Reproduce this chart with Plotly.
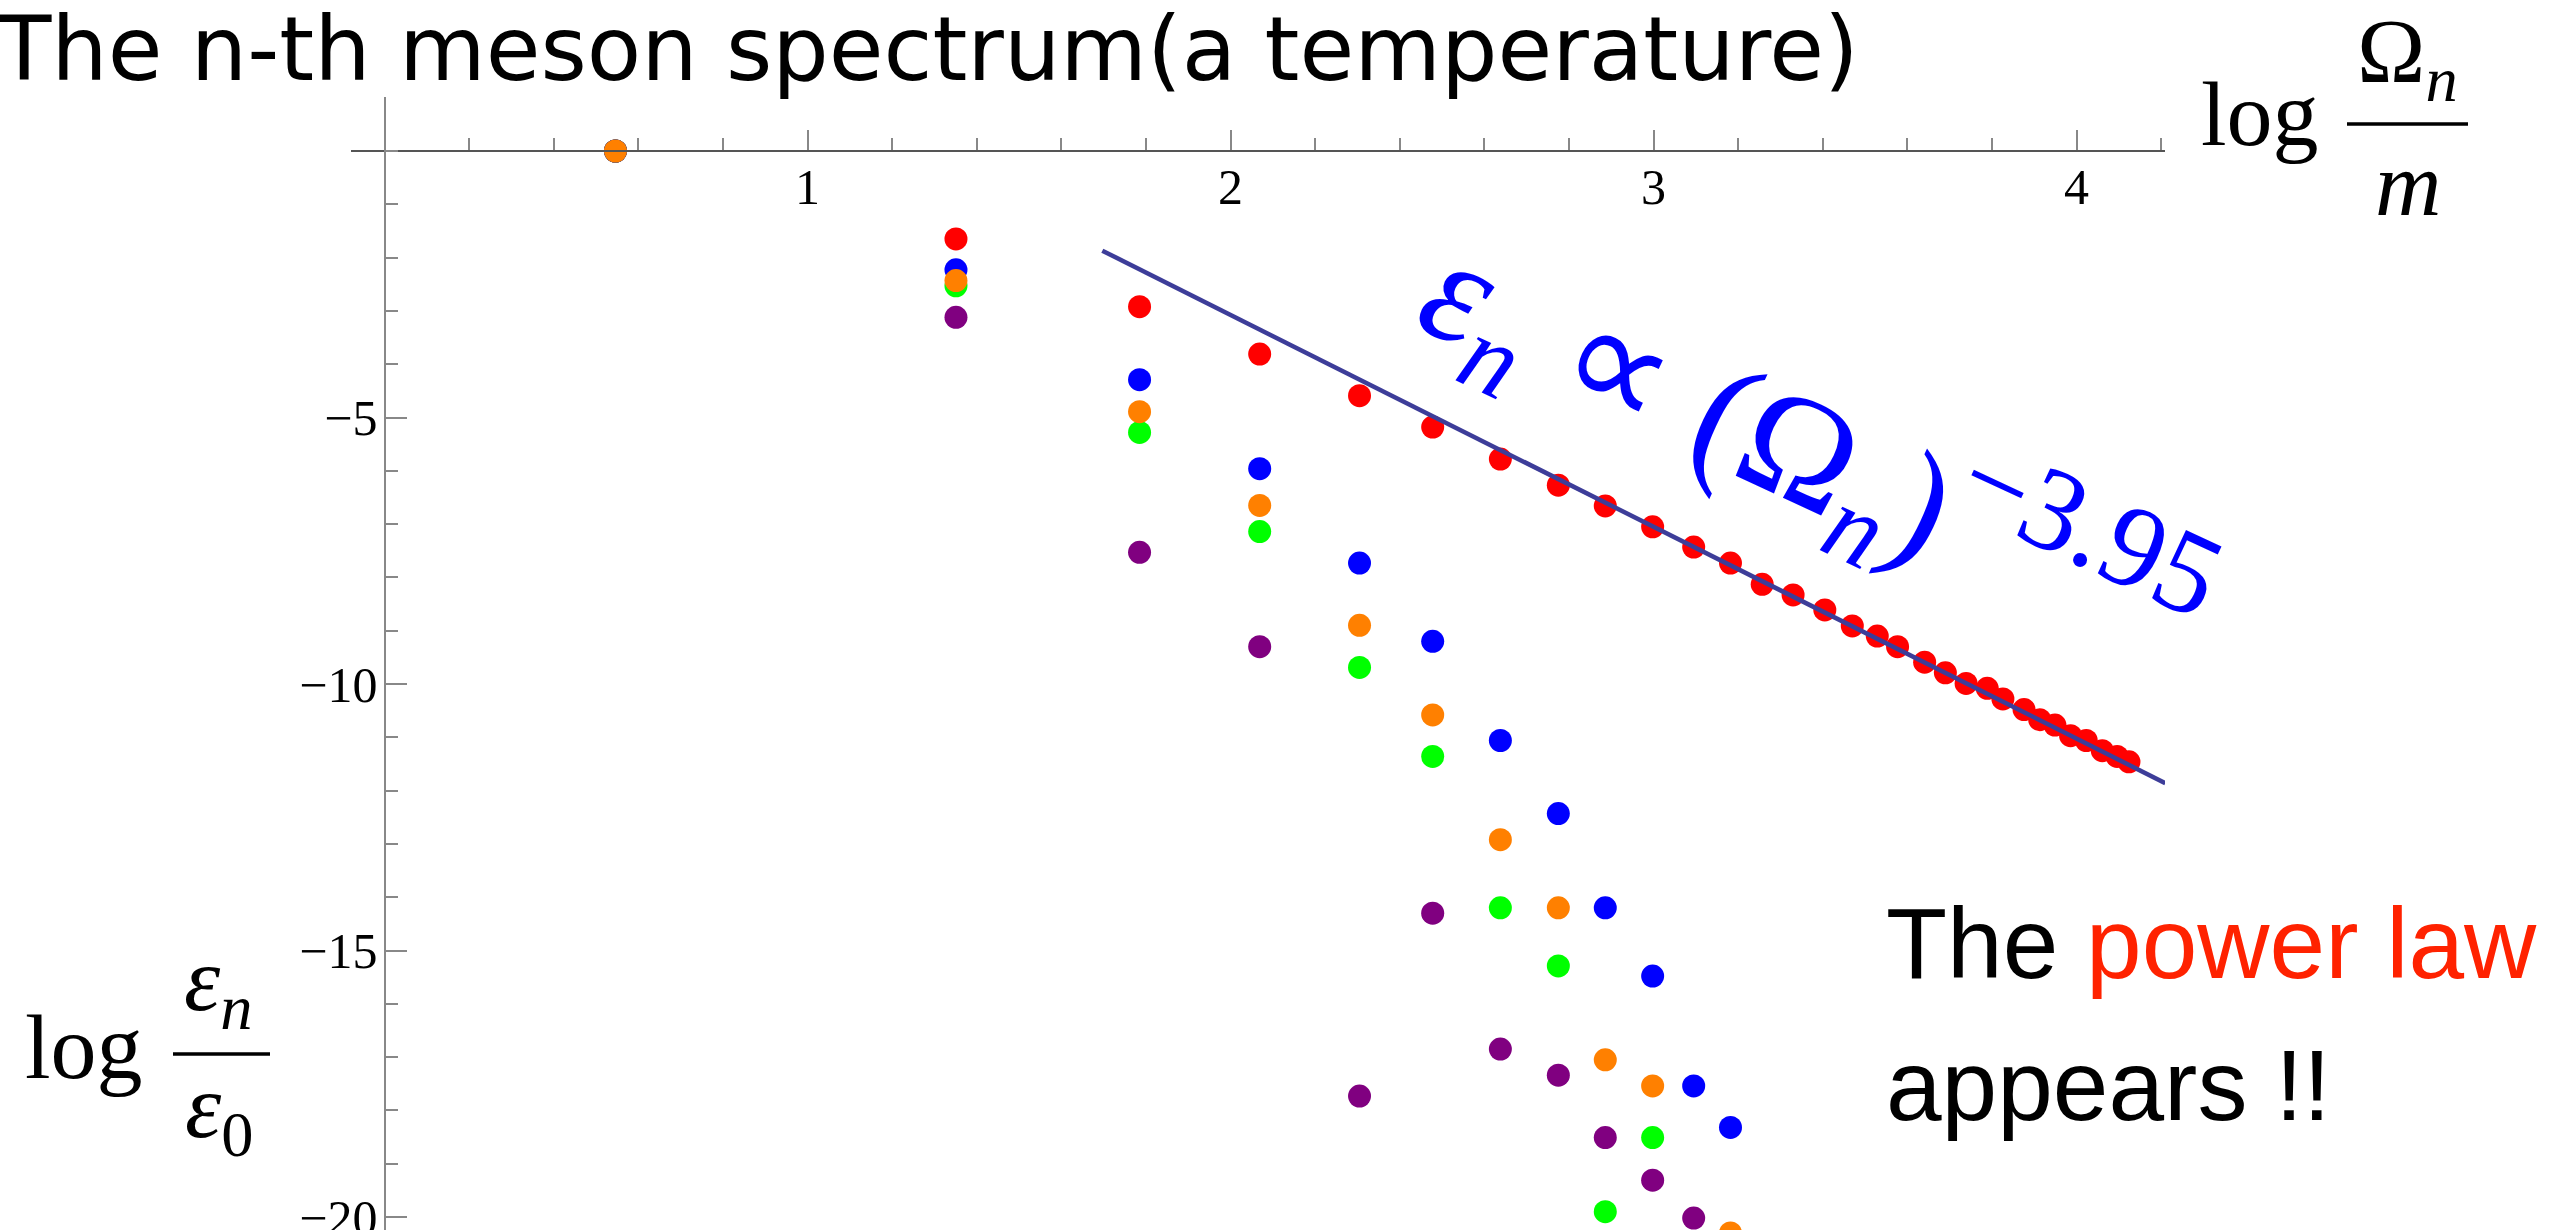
import plotly.graph_objects as go

# ---------------- data ----------------
log_omega = [0.546, 1.351, 1.785, 2.069, 2.305, 2.478, 2.638, 2.775, 2.886, 2.998,
             3.095, 3.182, 3.257, 3.330, 3.405, 3.470, 3.529, 3.577, 3.641, 3.690,
             3.739, 3.789, 3.826, 3.876, 3.913, 3.949, 3.986, 4.023, 4.061, 4.096, 4.124]

red_y = [0, -1.65, -2.92, -3.81, -4.59, -5.18, -5.78, -6.27, -6.66, -7.05,
         -7.43, -7.73, -8.13, -8.33, -8.61, -8.91, -9.10, -9.30, -9.59, -9.79,
         -9.99, -10.08, -10.28, -10.48, -10.67, -10.77, -10.97, -11.06, -11.25, -11.36, -11.46]
blue_y = [0, -2.23, -4.29, -5.96, -7.73, -9.20, -11.06, -12.43, -14.20, -15.48, -17.54, -18.32]
orange_y = [0, -2.43, -4.89, -6.65, -8.90, -10.58, -12.92, -14.20, -17.05, -17.54, None, -20.30]
green_y = [0, -2.53, -5.28, -7.14, -9.69, -11.36, -14.20, -15.29, -19.90, -18.51]
purple_y = [0, -3.12, -7.53, -9.30, -17.73, -14.30, -16.85, -17.34, -18.51, -19.31, -20.02]

fit_x = [1.697, 4.210]
fit_y = [-1.87, -11.86]

x_tickvals = [1, 2, 3, 4]
x_ticktext = ["1", "2", "3", "4"]
y_tickvals = [-20, -15, -10, -5]
y_ticktext = ["\u221220", "\u221215", "\u221210", "\u22125"]

# ---------------- geometry ----------------
W, H = 2564, 1230
L, R, T, B = 351, 399, 97, 0
PW, PH = W - L - R, H - T - B
X0PX, XSCALE = 384.5, 423.0     # pixel of x=0, pixels per unit
Y0PX, YSCALE = 151.0, 53.3      # pixel of y=0, pixels per unit
xmin = -(X0PX - L) / XSCALE
xmax = xmin + PW / XSCALE
ymax = (Y0PX - T) / YSCALE
ymin = ymax - PH / YSCALE


def pxx(px):
    return (px - L) / PW


def pxy(py):
    return (H - B - py) / PH


serif = "Liberation Serif"
colors = {"red": "#FF0000", "blue": "#0000FF", "green": "#00FF00",
          "purple": "#800080", "orange": "#FF8000"}
MS = 23

fig = go.Figure()
for name, ys in [("red", red_y), ("purple", purple_y), ("green", green_y),
                 ("blue", blue_y), ("orange", orange_y)]:
    fig.add_trace(go.Scatter(x=log_omega[:len(ys)], y=ys, mode="markers",
                             marker=dict(size=MS, color=colors[name], line=dict(width=0)),
                             showlegend=False, hoverinfo="skip"))

fig.add_trace(go.Scatter(x=fit_x, y=fit_y, mode="lines",
                         line=dict(color="#3D3D99", width=4.5),
                         showlegend=False, hoverinfo="skip"))

tickfont = dict(family=serif, size=50, color="black")
fig.update_xaxes(range=[xmin, xmax], anchor="free", automargin=False,
                 position=(0 - ymin) / (ymax - ymin), side="bottom",
                 showline=True, linecolor="#555555", linewidth=2,
                 showgrid=False, zeroline=False,
                 tickmode="array", tickvals=x_tickvals, ticktext=x_ticktext,
                 ticks="inside", ticklen=20, tickwidth=1.5, tickcolor="#888888",
                 tickfont=tickfont, ticklabelstandoff=-8, ticklabeloverflow="allow",
                 minor=dict(tickmode="linear", tick0=0, dtick=0.2, ticks="inside",
                            ticklen=12, tickwidth=1.5, tickcolor="#888888"))
fig.update_yaxes(range=[ymin, ymax], anchor="free", automargin=False,
                 position=(0 - xmin) / (xmax - xmin), side="left",
                 showline=True, linecolor="#888888", linewidth=2,
                 showgrid=False, zeroline=False,
                 tickmode="array", tickvals=y_tickvals, ticktext=y_ticktext,
                 ticks="inside", ticklen=21, tickwidth=1.5, tickcolor="#888888",
                 tickfont=tickfont, ticklabelstandoff=-4, ticklabeloverflow="allow",
                 minor=dict(tickmode="linear", tick0=0, dtick=1, ticks="inside",
                            ticklen=12, tickwidth=1.5, tickcolor="#888888"))

ann = []


def add_text(text, px, py, size, family=serif, color="black", xanchor="center",
             angle=0, baseline=True):
    cy = py - 0.35 * size if baseline else py
    ann.append(dict(text=text, x=pxx(px), y=pxy(cy), xref="paper", yref="paper",
                    xanchor=xanchor, yanchor="middle", showarrow=False,
                    textangle=angle, font=dict(family=family, size=size, color=color)))


# title
add_text("The n-th meson spectrum(a temperature)", -6, 80, 89,
         family="DejaVu Sans", xanchor="left")

# x-axis label: log Omega_n / m
add_text("log", 2260, 146, 92)
add_text("\u03a9<sub><i>n</i></sub>", 2407, 90, 92)
add_text("<i>m</i>", 2408, 216, 92)

# y-axis label: log eps_n / eps_0
add_text("log", 84, 1079, 92)
add_text("<i>\u03b5<sub>n</sub></i>", 218, 1018, 92)
add_text("<i>\u03b5</i><sub>0</sub>", 219, 1145, 92)

# power law annotation
add_text("<i>\u03b5<sub>n</sub></i> \u221d (\u03a9<sub><i>n</i></sub>)"
         "<sup><span style='font-size:118px'>\u22123.95</span></sup>",
         1815, 450, 152, color="#0000FF", angle=25, baseline=False)

# The power law appears !!
add_text("The <span style='color:#FF2200'>power law</span>", 1884, 978, 100,
         family="Liberation Sans", xanchor="left")
add_text("appears !!", 1884, 1120, 100, family="Liberation Sans", xanchor="left")

shapes = [
    dict(type="line", xref="paper", yref="paper", x0=pxx(2347), x1=pxx(2468),
         y0=pxy(124), y1=pxy(124), line=dict(color="black", width=3.5)),
    dict(type="line", xref="paper", yref="paper", x0=pxx(173), x1=pxx(270),
         y0=pxy(1054), y1=pxy(1054), line=dict(color="black", width=3.5)),
]

fig.update_layout(width=W, height=H, margin=dict(l=L, r=R, t=T, b=B, pad=0, autoexpand=False),
                  plot_bgcolor="white", paper_bgcolor="white",
                  annotations=ann, shapes=shapes)

fig.write_html("out.html", config={"displayModeBar": False},
               post_script="document.body.style.margin='0';document.body.style.overflow='hidden';")
